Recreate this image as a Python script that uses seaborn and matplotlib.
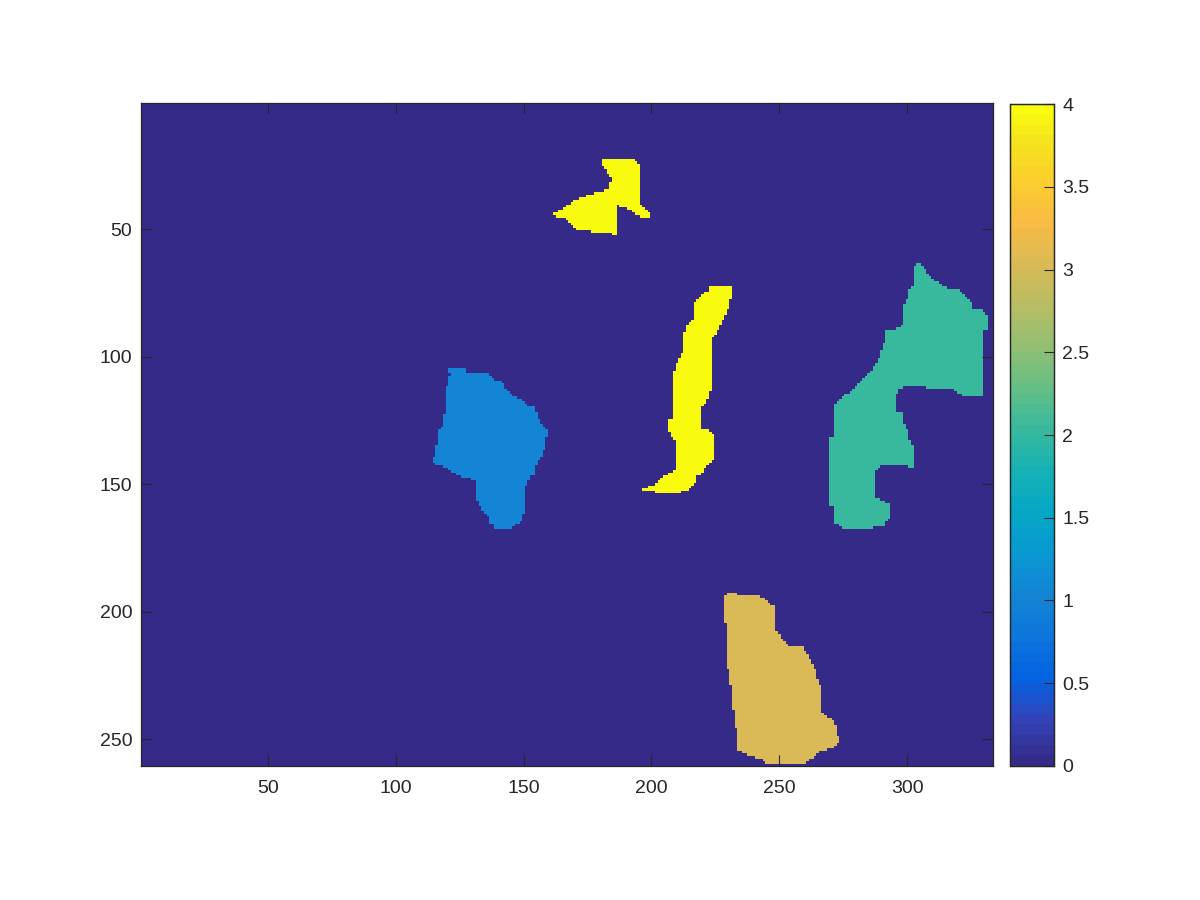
import numpy as np
import matplotlib
matplotlib.use("Agg")
import matplotlib.pyplot as plt
import seaborn as sns
from matplotlib.path import Path
from matplotlib.colors import LinearSegmentedColormap

# image size (rows x columns) of the label map
n_rows = 260
n_cols = 333

# outlines of the labelled regions, as (column, row)
region_top_yellow = [(181, 22), (192, 22), (194, 23.5), (195.4, 25), (195.4, 38), (196.2, 40.7),
                     (199.3, 43.3), (199.3, 45.7), (197.4, 45.7), (194.3, 44.4), (191.5, 42.4),
                     (188.4, 41.4), (186.4, 40.7), (186.4, 52.8), (183.3, 51.5), (171.2, 50.6),
                     (168.5, 48.5), (167.3, 46.3), (161.4, 44.6), (162.6, 43.3), (165.3, 42.4),
                     (167.3, 40.5), (170.4, 38.4), (176.3, 36.3), (183.3, 34.6), (184.5, 29.8),
                     (182.5, 27.5), (180.2, 24.2)]

region_mid_yellow = [(222.4, 72.8), (231.4, 72.8), (231.4, 76.7), (230.2, 77.6), (230.2, 81),
                     (228.2, 84.7), (226.3, 89.3), (224.3, 92.6), (223.2, 93.9), (223.2, 112.6),
                     (222.4, 115.3), (221.2, 118.6), (219.25, 120.8), (219.25, 127.8), (222.4, 129.1),
                     (224.3, 130.6), (224.3, 140.7), (221.2, 142.7), (220.4, 145.3), (217.3, 147.2),
                     (217.3, 149.7), (214.2, 152.1), (211.4, 153.1), (211.4, 153.6), (201.3, 153.6),
                     (201.3, 152.8), (196.2, 152.8), (196.2, 151.7), (200.5, 150.5), (203.2, 147.9),
                     (208.3, 145.3), (209.1, 144.6), (209.1, 132.9), (208.3, 132.3), (207.1, 129.7),
                     (206.4, 127.8), (206.4, 124.7), (208.3, 123.9), (208.3, 106.75), (210.3, 102.3),
                     (211.4, 99.7), (212.2, 97.8), (212.2, 91.9), (214.2, 87.3), (216.1, 85.7),
                     (216.1, 79.8), (218.1, 77.6), (220.4, 75.2), (222.4, 73.7)]

region_blue = [(120.4, 104.8), (127.5, 104.8), (127.5, 106), (132.5, 106), (136.4, 107.1),
               (137.6, 108.8), (141.5, 110.1), (144.6, 114.7), (149.3, 117), (151.3, 119.25),
               (154.4, 119.9), (155.6, 122.5), (156.4, 125.8), (157.5, 127.7), (159.5, 128.6),
               (159.5, 131.75), (158.3, 132.3), (158.3, 135.7), (157.5, 138.8), (156.4, 140.1),
               (154.4, 143.3), (154.4, 145.8), (152.45, 147.3), (151.3, 149.8), (150.5, 151.2),
               (150.5, 160.7), (149.3, 161.6), (149.3, 164.6), (145.4, 166.8), (145.4, 167.7),
               (138.4, 167.7), (138.4, 165.7), (136.4, 165.7), (136.4, 162.6), (134.5, 160.9),
               (133.3, 159), (132.5, 157), (131.4, 155.6), (131.4, 148.5), (126.7, 147.5),
               (122.4, 145.5), (119.6, 143.3), (116.5, 142.3), (114.6, 141.9), (114.6, 139.6),
               (115.7, 139.6), (115.7, 135.7), (116.5, 132.9), (116.5, 128.6), (118.5, 127.1),
               (118.5, 122.8), (119.6, 121.2), (119.6, 111.8), (120.4, 111.4), (120.4, 107.9),
               (121.6, 106.9), (120.4, 106)]

region_teal = [(304, 63), (305.2, 63), (306, 64.6), (307.1, 66.1), (309.1, 68.7), (311, 70.4),
               (316.1, 73.4), (320, 73.9), (322.8, 76), (325.1, 78.2), (325.9, 81), (329.8, 81.75),
               (331, 83.7), (331, 89.95), (329.8, 89.95), (329.8, 113.8), (329, 113.8), (329, 115.7),
               (322.8, 115.7), (320.8, 114.4), (318.1, 113.3), (318.1, 112.6), (307.9, 112.6),
               (307.9, 111.8), (298.9, 111.8), (298.9, 112.6), (296.2, 112.6), (296.2, 114.95),
               (295, 114.95), (295, 120.8), (298.2, 121.9), (298.9, 125.8), (300.1, 128.4),
               (300.9, 132.3), (302.1, 134.9), (302.1, 143.9), (300.1, 143.9), (300.1, 142.7),
               (289.2, 142.7), (288, 144.6), (287.2, 145.8), (287.2, 152.8), (288, 155.1),
               (291.1, 157), (293.9, 157.5), (293.9, 161.8), (291.9, 164.8), (291.9, 166.5),
               (286, 166.5), (286, 167.7), (275.1, 167.7), (273.9, 166.1), (271.2, 165.7),
               (271.2, 158.7), (270, 158.7), (270, 131.75), (271.2, 131.75), (271.2, 124.7),
               (272, 124.7), (272, 118.9), (273.2, 116.9), (278.2, 113.4), (286, 105.7),
               (288, 102.3), (290, 97.8), (291.1, 94.25), (291.9, 89.95), (295, 89.3),
               (298.2, 87.3), (298.9, 84.1), (298.9, 79.8), (300.1, 77.6), (300.9, 73.7),
               (302.1, 72.4), (302.1, 66.9), (302.8, 65.2), (304, 63.8)]

region_gold = [(229.4, 192.7), (233.3, 192.7), (233.3, 193.5), (241.1, 193.5), (244.25, 195),
               (247, 197.1), (248.2, 197.8), (248.2, 205.6), (249.3, 207.8), (251.3, 210.4),
               (254, 213.3), (259.1, 213.8), (261, 216.9), (263, 220.2), (264.2, 222.8),
               (265, 226.7), (266.1, 228.6), (266.1, 238.4), (268.1, 240.3), (271.2, 242.9),
               (272, 244.9), (272, 248.5), (273.2, 248.5), (273.2, 251.7), (271.2, 253.1),
               (266.1, 254.7), (263, 257), (260.3, 259.2), (260.3, 259.6), (245, 259.6),
               (245, 258.7), (240.3, 257), (236, 255.3), (233.3, 254.4), (233.3, 245.4),
               (232.1, 245.4), (232.1, 238.4), (231.4, 238.4), (231.4, 228.6), (230.2, 228.6),
               (230.2, 222.8), (229.4, 222.8), (229.4, 204.8), (228.2, 204.8), (228.2, 193.5),
               (229.4, 193.5)]

regions = [region_top_yellow, region_mid_yellow, region_blue, region_teal, region_gold]
region_labels = [4, 4, 1, 2, 3]

x_ticks = [50, 100, 150, 200, 250, 300]
y_ticks = [50, 100, 150, 200, 250]
cbar_ticks = [0, 0.5, 1, 1.5, 2, 2.5, 3, 3.5, 4]
cbar_labels = ['0', '0.5', '1', '1.5', '2', '2.5', '3', '3.5', '4']

# parula-like colormap
parula_colors = [(0.2081, 0.1663, 0.5292), (0.1959, 0.2645, 0.7279), (0.0117, 0.3875, 0.8820),
                 (0.0498, 0.4586, 0.8641), (0.0793, 0.5200, 0.8312), (0.0343, 0.5966, 0.8199),
                 (0.0228, 0.6535, 0.7768), (0.0843, 0.6928, 0.7062), (0.2178, 0.7250, 0.6193),
                 (0.3953, 0.7459, 0.5244), (0.5709, 0.7485, 0.4494), (0.7184, 0.7411, 0.3905),
                 (0.8507, 0.7299, 0.3360), (0.9739, 0.7314, 0.2666), (0.9880, 0.8066, 0.1794),
                 (0.9589, 0.8949, 0.1132), (0.9763, 0.9831, 0.0538)]
parula_pos = [0, 4, 8, 12, 16, 20, 24, 28, 32, 36, 40, 44, 48, 52, 56, 60, 63]
parula = LinearSegmentedColormap.from_list(
    "parula", [(p / 63, c) for p, c in zip(parula_pos, parula_colors)], N=64)

# build label image
cols, rows = np.meshgrid(np.arange(1, n_cols + 1), np.arange(1, n_rows + 1))
centers = np.column_stack([cols.ravel(), rows.ravel()])
label_img = np.zeros((n_rows, n_cols))
for poly, lab in zip(regions, region_labels):
    inside = Path(poly).contains_points(centers).reshape(n_rows, n_cols)
    label_img[inside] = lab

plt.rcParams['font.family'] = ['Liberation Sans', 'DejaVu Sans']
edge = '#262626'

fig = plt.figure(figsize=(12, 9), dpi=100)
ax = fig.add_axes([0.1178, 0.1486, 0.7095, 0.7373])
cax = fig.add_axes([0.8419, 0.1492, 0.0362, 0.7349])

sns.heatmap(label_img, ax=ax, cmap=parula, vmin=0, vmax=4, cbar_ax=cax,
            xticklabels=False, yticklabels=False, rasterized=True)

ax.set_xticks([v - 0.5 for v in x_ticks])
ax.set_xticklabels([str(v) for v in x_ticks])
ax.set_yticks([v - 0.5 for v in y_ticks])
ax.set_yticklabels([str(v) for v in y_ticks], rotation=0)
ax.tick_params(direction='in', length=8, width=0.8, color=edge, labelcolor=edge,
               labelsize=14, top=True, right=True)
ax.tick_params(axis='x', pad=10)
ax.tick_params(axis='y', pad=6.5)
for s in ax.spines.values():
    s.set_visible(True)
    s.set_color(edge)
    s.set_linewidth(0.9)

cax.set_yticks(cbar_ticks)
cax.set_yticklabels(cbar_labels)
cax.tick_params(direction='in', length=7, width=0.8, color=edge, labelcolor=edge,
                labelsize=14, pad=6)
for s in cax.spines.values():
    s.set_visible(True)
    s.set_color(edge)
    s.set_linewidth(0.9)

fig.savefig("out.png", dpi=100)
